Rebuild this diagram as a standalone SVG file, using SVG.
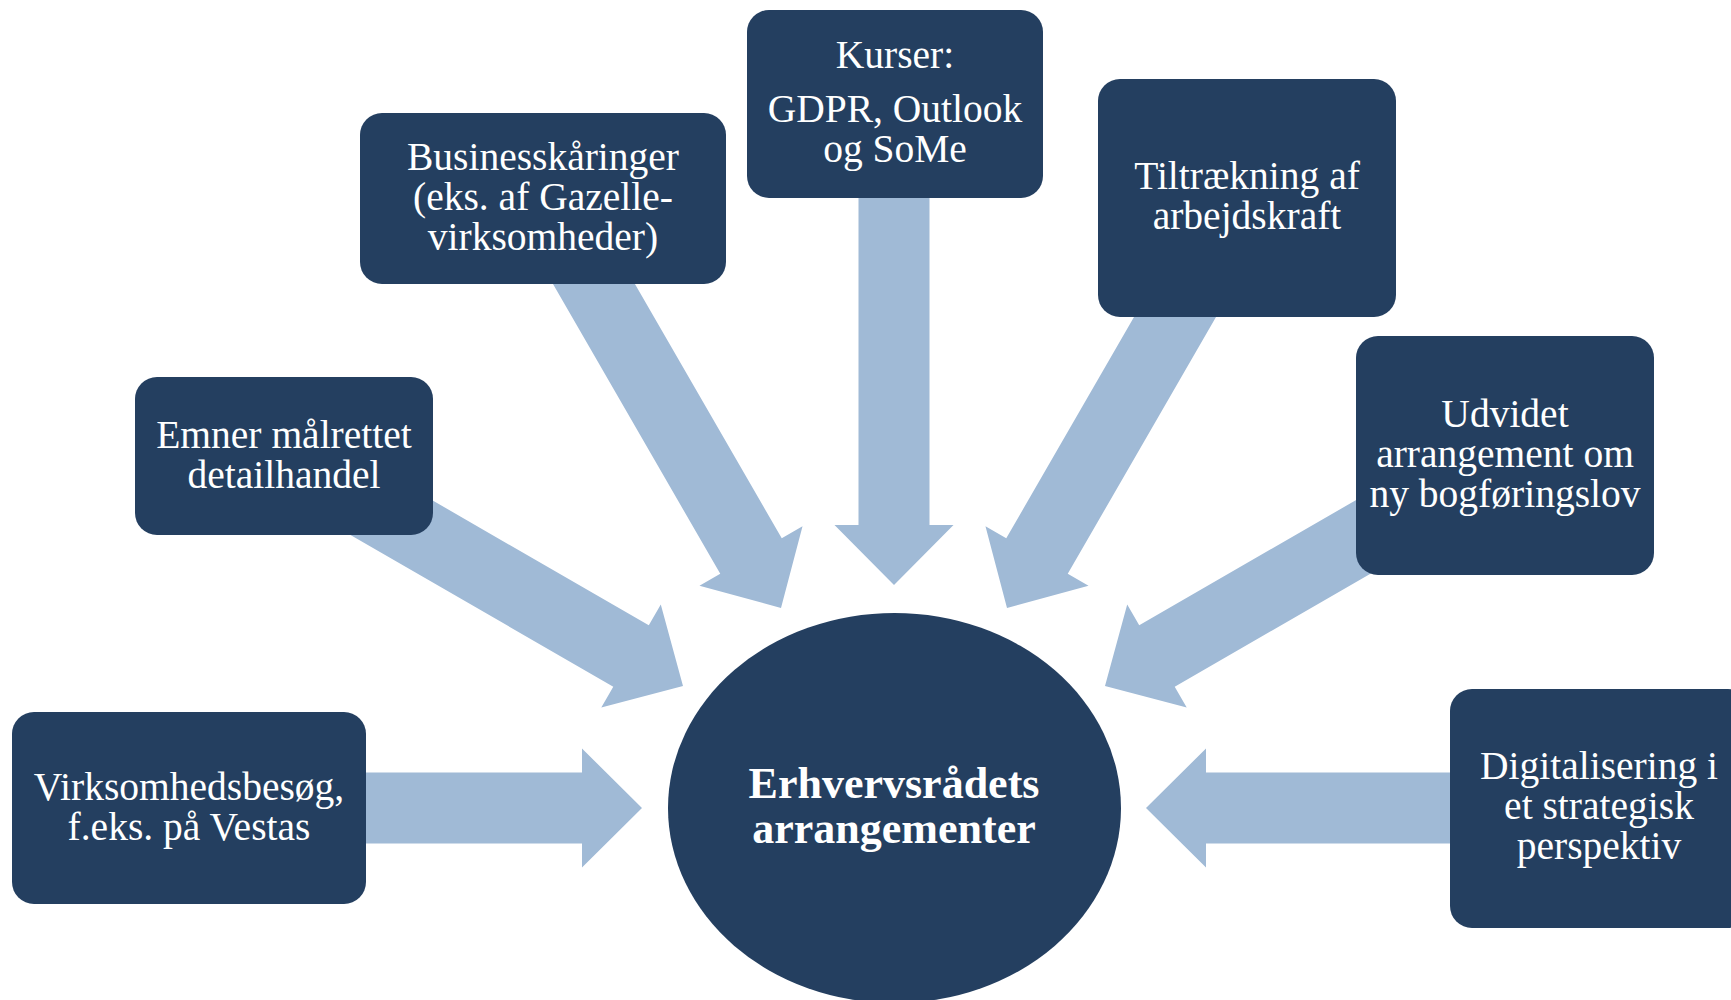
<svg xmlns="http://www.w3.org/2000/svg" width="1731" height="1000" viewBox="0 0 1731 1000">
<defs>
<style>
.box{fill:#243F60;}
.arr{fill:#A0BAD6;}
.t{font-family:"Liberation Serif",Cambria,serif;font-size:39.5px;fill:#ffffff;text-anchor:middle;}
.tb{font-family:"Liberation Serif",Cambria,serif;font-size:44px;font-weight:bold;fill:#ffffff;text-anchor:middle;}
</style>
</defs>
<rect width="1731" height="1000" fill="#ffffff"/>
<g id="connectors">
<polygon class="arr" transform="translate(894,585) rotate(90)" points="-435,-35.5 -60,-35.5 -60,-59.5 0,0 -60,59.5 -60,35.5 -435,35.5"/>
<polygon class="arr" transform="translate(781,608) rotate(60)" points="-413,-35.5 -60,-35.5 -60,-59.5 0,0 -60,59.5 -60,35.5 -413,35.5"/>
<polygon class="arr" transform="translate(1007,608) rotate(120)" points="-403,-35.5 -60,-35.5 -60,-59.5 0,0 -60,59.5 -60,35.5 -403,35.5"/>
<polygon class="arr" transform="translate(683,686) rotate(30)" points="-400,-35.5 -60,-35.5 -60,-59.5 0,0 -60,59.5 -60,35.5 -400,35.5"/>
<polygon class="arr" transform="translate(1105,686) rotate(150)" points="-400,-35.5 -60,-35.5 -60,-59.5 0,0 -60,59.5 -60,35.5 -400,35.5"/>
<polygon class="arr" transform="translate(642,808)" points="-340,-35.5 -60,-35.5 -60,-59.5 0,0 -60,59.5 -60,35.5 -340,35.5"/>
<polygon class="arr" transform="translate(1146,808) rotate(180)" points="-350,-35.5 -60,-35.5 -60,-59.5 0,0 -60,59.5 -60,35.5 -350,35.5"/>
</g>
<g id="kurser">
<rect class="box" x="747" y="10" width="296" height="188" rx="22" ry="22"/>
<text class="t" x="895" y="68">Kurser:</text>
<text class="t" x="895" y="122">GDPR, Outlook</text>
<text class="t" x="895" y="162">og SoMe</text>
</g>
<g id="businesskaaringer">
<rect class="box" x="360" y="113" width="366" height="171" rx="22" ry="22"/>
<text class="t" x="543" y="170">Businesskåringer</text>
<text class="t" x="543" y="210">(eks. af Gazelle-</text>
<text class="t" x="543" y="250">virksomheder)</text>
</g>
<g id="tiltraekning">
<rect class="box" x="1098" y="79" width="298" height="238" rx="22" ry="22"/>
<text class="t" x="1247" y="189">Tiltrækning af</text>
<text class="t" x="1247" y="229">arbejdskraft</text>
</g>
<g id="emner">
<rect class="box" x="135" y="377" width="298" height="158" rx="22" ry="22"/>
<text class="t" x="284" y="448">Emner målrettet</text>
<text class="t" x="284" y="488">detailhandel</text>
</g>
<g id="udvidet">
<rect class="box" x="1356" y="336" width="298" height="239" rx="22" ry="22"/>
<text class="t" x="1505" y="427">Udvidet</text>
<text class="t" x="1505" y="467">arrangement om</text>
<text class="t" x="1505" y="507">ny bogføringslov</text>
</g>
<g id="virksomhedsbesoeg">
<rect class="box" x="12" y="712" width="354" height="192" rx="22" ry="22"/>
<text class="t" x="189" y="800">Virksomhedsbesøg,</text>
<text class="t" x="189" y="840">f.eks. på Vestas</text>
</g>
<g id="digitalisering">
<rect class="box" x="1450" y="689" width="300" height="239" rx="22" ry="22"/>
<text class="t" x="1599" y="779">Digitalisering i</text>
<text class="t" x="1599" y="819">et strategisk</text>
<text class="t" x="1599" y="859">perspektiv</text>
</g>
<g id="center">
<ellipse class="box" cx="894.5" cy="808" rx="226.5" ry="195"/>
<text class="tb" x="894" y="798">Erhvervsrådets</text>
<text class="tb" x="894" y="843">arrangementer</text>
</g>
</svg>
